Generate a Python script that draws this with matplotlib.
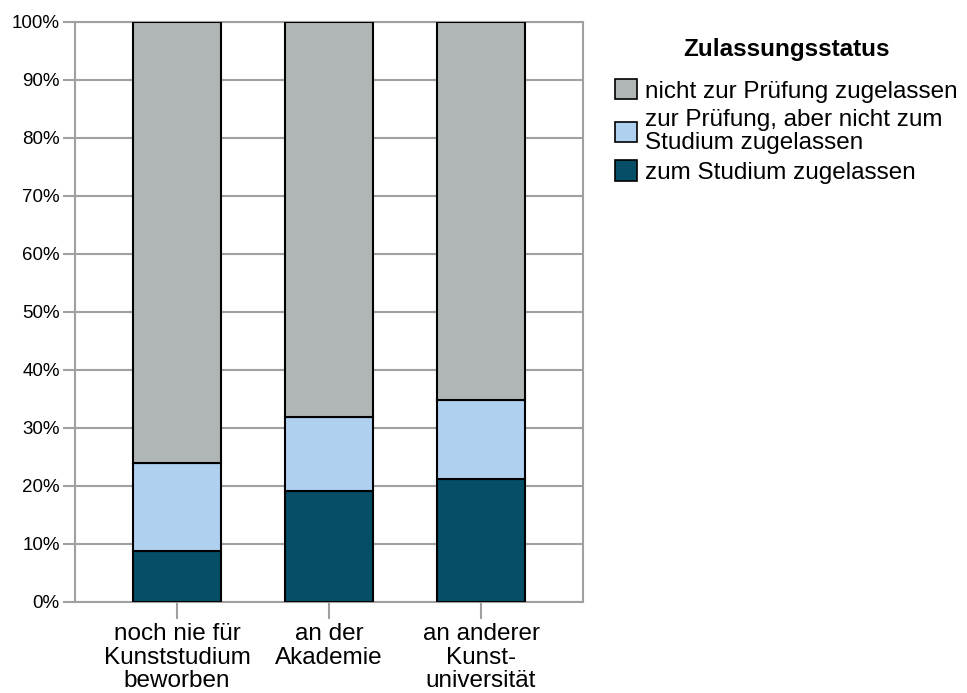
import matplotlib
matplotlib.use("Agg")
import matplotlib.pyplot as plt
from matplotlib.patches import Patch

plt.rcParams['font.family'] = ['Liberation Sans', 'DejaVu Sans']

categories = ["noch nie für\nKunststudium\nbeworben", "an der\nAkademie", "an anderer\nKunst-\nuniversität"]
series_names = ["zum Studium zugelassen", "zur Prüfung, aber nicht zum\nStudium zugelassen", "nicht zur Prüfung zugelassen"]
zugelassen = [8.8, 19.1, 21.2]
pruefung = [15.1, 12.8, 13.6]
nicht = [76.1, 68.1, 65.2]
colors = ["#044F67", "#AFD1EF", "#B0B5B5"]
legend_title = "Zulassungsstatus"

W, H = 967, 693
fig = plt.figure(figsize=(W/100, H/100), dpi=100)
ax = fig.add_axes([75/W, 1-602/H, (583-75)/W, (602-22)/H])

x = list(range(len(categories)))
bottom = [0]*len(categories)
for vals, col in zip([zugelassen, pruefung, nicht], colors):
    ax.bar(x, vals, width=0.58, bottom=bottom, color=col, edgecolor='black', linewidth=1.5, zorder=3)
    bottom = [b+v for b, v in zip(bottom, vals)]

ax.set_xlim(-0.671, 2.671)
ax.set_ylim(0, 100)
ax.set_yticks(range(0, 101, 10))
ax.set_yticklabels([f"{v}%" for v in range(0, 101, 10)], fontsize=13.5)
ax.set_xticks(x)
ax.set_xticklabels(categories, fontsize=17.5, linespacing=1.1)
ax.yaxis.grid(True, color='#A0A0A0', linewidth=1.5, zorder=0)
for s in ax.spines.values():
    s.set_color('#A0A0A0')
    s.set_linewidth(1.5)
ax.tick_params(axis='y', length=9, width=1.5, color='#A0A0A0', pad=2)
ax.tick_params(axis='x', length=12, width=1.5, color='#A0A0A0', pad=3)

handles = [Patch(facecolor=c, edgecolor='black', linewidth=1.2) for c in reversed(colors)]
leg = fig.legend(handles, list(reversed(series_names)), title=legend_title,
                 loc='upper left', bbox_to_anchor=(603/W, 1-26/H), frameon=False,
                 fontsize=17.5, title_fontproperties={'weight': 'bold', 'size': 17.5},
                 handlelength=0.9, handleheight=0.9, handletextpad=0.33,
                 labelspacing=0.25, borderpad=0)
leg._legend_box.align = "center"
leg._legend_box.sep = 13
for t in leg.get_texts():
    t.set_linespacing(1.09)

fig.savefig("out.png", dpi=100)
